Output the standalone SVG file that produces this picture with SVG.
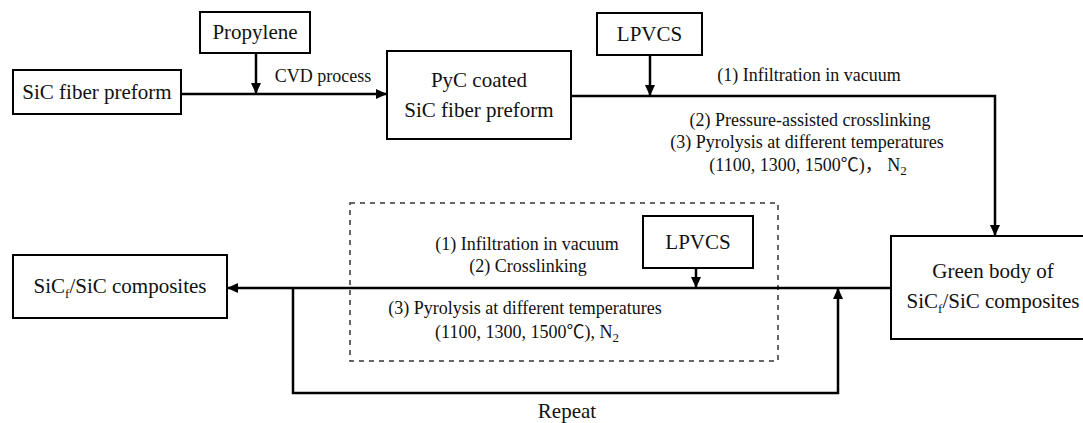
<svg xmlns="http://www.w3.org/2000/svg" width="1083" height="423" viewBox="0 0 1083 423">
<defs>
<marker id="arr" markerUnits="userSpaceOnUse" markerWidth="11" markerHeight="10" refX="11" refY="5" orient="auto">
<path d="M0,0 L11,5 L0,10 z" fill="#000"/>
</marker>
<style>
.box{fill:#fff;stroke:#000;stroke-width:2}
.nt{font-family:"Liberation Serif","Noto Sans CJK SC",serif;font-size:21px;fill:#111;text-anchor:middle}
.lt{font-family:"Liberation Serif","Noto Sans CJK SC",serif;font-size:18px;fill:#111;text-anchor:middle}
.ln{fill:none;stroke:#000;stroke-width:2.5}
.sub{font-size:13px}
</style>
</defs>
<rect width="1083" height="423" fill="#fff"/>
<g id="group-box">
<rect x="350" y="203" width="428" height="158" fill="none" stroke="#333" stroke-width="1.5" stroke-dasharray="5,5"/>
</g>
<g id="connectors">
<line class="ln" x1="181" y1="94" x2="387" y2="94" marker-end="url(#arr)"/>
<line class="ln" x1="256" y1="53" x2="256" y2="94" marker-end="url(#arr)"/>
<polyline class="ln" points="571,96 995,96 995,236" marker-end="url(#arr)"/>
<line class="ln" x1="650" y1="55" x2="650" y2="96" marker-end="url(#arr)"/>
<line class="ln" x1="891" y1="288" x2="227" y2="288" marker-end="url(#arr)"/>
<line class="ln" x1="696" y1="268" x2="696" y2="288" marker-end="url(#arr)"/>
<polyline class="ln" points="293,288 293,393 838,393 838,288" marker-end="url(#arr)"/>
</g>
<g id="labels">
<text class="lt" x="323" y="82">CVD process</text>
<text class="lt" x="809" y="81">(1) Infiltration in vacuum</text>
<text class="lt" x="810" y="126">(2) Pressure-assisted crosslinking</text>
<text class="lt" x="807" y="148">(3) Pyrolysis at different temperatures</text>
<text class="lt" x="808" y="171">(1100, 1300, 1500℃)， N<tspan class="sub" dy="4">2</tspan></text>
<text class="lt" x="527" y="250">(1) Infiltration in vacuum</text>
<text class="lt" x="528" y="272">(2) Crosslinking</text>
<text class="lt" x="525" y="314">(3) Pyrolysis at different temperatures</text>
<text class="lt" x="527" y="338">(1100, 1300, 1500℃), N<tspan class="sub" dy="4">2</tspan></text>
<text class="nt" x="567" y="418">Repeat</text>
</g>
<g id="node-sic-fiber">
<rect class="box" x="13" y="70" width="168" height="44"/>
<text class="nt" x="97" y="99">SiC fiber preform</text>
</g>
<g id="node-propylene">
<rect class="box" x="200" y="12" width="110" height="41"/>
<text class="nt" x="255" y="39">Propylene</text>
</g>
<g id="node-pyc">
<rect class="box" x="387" y="51" width="184" height="88"/>
<text class="nt" x="479" y="87">PyC coated</text>
<text class="nt" x="479" y="117">SiC fiber preform</text>
</g>
<g id="node-lpvcs-top">
<rect class="box" x="597" y="13" width="105" height="42"/>
<text class="nt" x="649.5" y="41">LPVCS</text>
</g>
<g id="node-green-body">
<rect class="box" x="891" y="236" width="205" height="103"/>
<text class="nt" x="993" y="278">Green body of</text>
<text class="nt" x="993" y="308">SiC<tspan class="sub" dy="5">f</tspan><tspan dy="-5">/SiC composites</tspan></text>
</g>
<g id="node-lpvcs-bottom">
<rect class="box" x="643" y="216" width="110" height="52"/>
<text class="nt" x="698" y="249">LPVCS</text>
</g>
<g id="node-composites">
<rect class="box" x="13" y="255" width="214" height="63"/>
<text class="nt" x="120" y="293">SiC<tspan class="sub" dy="5">f</tspan><tspan dy="-5">/SiC composites</tspan></text>
</g>
</svg>
